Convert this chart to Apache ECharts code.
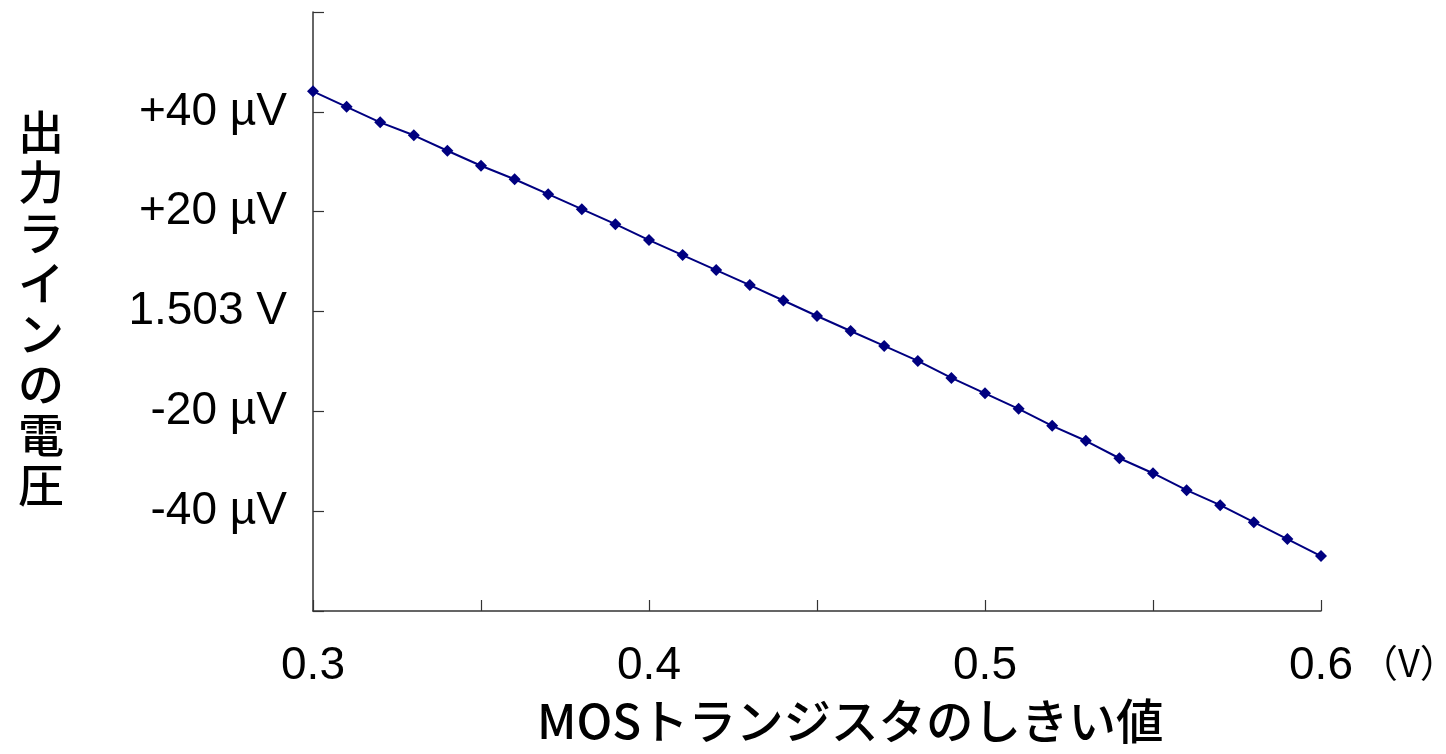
<!DOCTYPE html>
<html>
<head>
<meta charset="utf-8">
<title>MOSトランジスタのしきい値と出力ラインの電圧</title>
<script src="https://cdn.jsdelivr.net/npm/echarts@6/dist/echarts.min.js"></script>
<style>
  html, body {
    margin: 0;
    padding: 0;
    background: #fff;
  }
  #main {
    width: 1446px;
    height: 754px;
  }
</style>
</head>
<body>
<div id="main"></div>
<script>
// しきい値 (V)
const thresholds = [
  0.30, 0.31, 0.32, 0.33, 0.34, 0.35, 0.36, 0.37, 0.38, 0.39,
  0.40, 0.41, 0.42, 0.43, 0.44, 0.45, 0.46, 0.47, 0.48, 0.49,
  0.50, 0.51, 0.52, 0.53, 0.54, 0.55, 0.56, 0.57, 0.58, 0.59,
  0.60
]
// 1.503 V からのずれ (µV)
const offsets = [
  44.1, 41.0, 37.9, 35.3, 32.2, 29.2, 26.5, 23.5, 20.5, 17.5,
  14.3, 11.3, 8.3, 5.3, 2.2, -0.9, -3.9, -6.9, -9.9, -13.3,
  -16.4, -19.5, -22.9, -25.9, -29.4, -32.4, -35.8, -38.8, -42.2, -45.6,
  -49.0
]
const xTickLabels = ['0.3', '0.4', '0.5', '0.6']
const yTickLabels = { '-40': '-40 \u00b5V', '-20': '-20 \u00b5V', '0': '1.503 V', '20': '+20 \u00b5V', '40': '+40 \u00b5V' }

const latin = '"Liberation Sans", Arial, "Noto Sans CJK JP", sans-serif'
const jp = '"Noto Sans CJK JP", "Liberation Sans", sans-serif'

const myChart = echarts.init(document.getElementById('main'))

myChart.setOption({
  animation: false,
  grid: {
    left: 313,
    right: 125,
    top: 12,
    bottom: 143
  },
  xAxis: {
    type: 'value',
    min: 0.3,
    max: 0.6,
    interval: 0.05,
    axisLine: {
      onZero: false,
      lineStyle: { color: '#333', width: 1.5 }
    },
    axisTick: {
      inside: true,
      length: 11,
      lineStyle: { color: '#333', width: 1.2 }
    },
    splitLine: { show: false },
    axisLabel: {
      margin: 32,
      fontFamily: latin,
      fontSize: 46,
      color: '#000',
      formatter: function (v) {
        const s = v.toFixed(1)
        return Math.abs(v - Number(s)) < 1e-6 && xTickLabels.indexOf(s) >= 0 ? s : ''
      }
    }
  },
  yAxis: {
    type: 'value',
    min: -60,
    max: 60,
    interval: 20,
    axisLine: {
      show: true,
      onZero: false,
      lineStyle: { color: '#333', width: 1.5 }
    },
    axisTick: {
      show: true,
      inside: true,
      length: 11,
      lineStyle: { color: '#333', width: 1.2 }
    },
    splitLine: { show: false },
    axisLabel: {
      margin: 26,
      fontFamily: latin,
      fontSize: 46,
      color: '#000',
      formatter: function (v) {
        return yTickLabels[String(Math.round(v))] || ''
      }
    }
  },
  series: [
    {
      type: 'line',
      data: thresholds.map((t, i) => [t, offsets[i]]),
      symbol: 'diamond',
      symbolSize: 12,
      lineStyle: { color: '#000080', width: 2 },
      itemStyle: { color: '#000080' }
    }
  ],
  graphic: [
    {
      type: 'text',
      left: 18,
      top: 106,
      style: {
        text: '出力ラインの電圧'.split('').join('\n'),
        font: '500 46px ' + jp,
        lineHeight: 50.5,
        fill: '#000',
        shadowColor: '#999',
        shadowBlur: 1,
        shadowOffsetX: 3,
        shadowOffsetY: 3
      }
    },
    {
      type: 'text',
      left: 537,
      top: 697,
      style: {
        text: 'MOSトランジスタのしきい値',
        font: '500 47.5px ' + jp,
        fill: '#000',
        shadowColor: '#999',
        shadowBlur: 1,
        shadowOffsetX: 3,
        shadowOffsetY: 3
      }
    },
    {
      type: 'text',
      left: 1360,
      top: 644,
      style: {
        text: '（V）',
        font: '38px ' + jp,
        fill: '#000'
      }
    }
  ]
}, true)

window.addEventListener('resize', () => {
  myChart.resize()
})
</script>
</body>
</html>
